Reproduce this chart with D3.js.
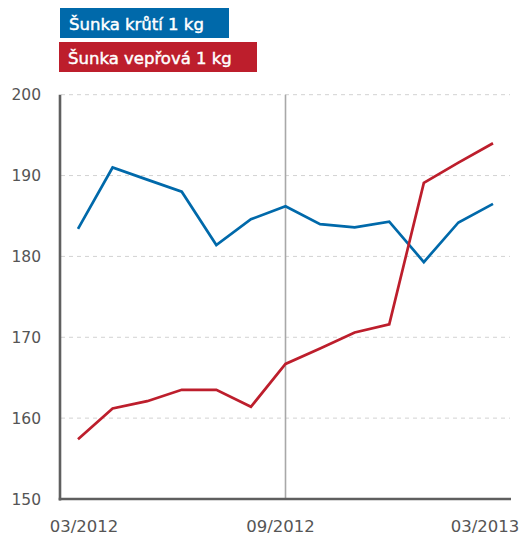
<!DOCTYPE html>
<html>
<head>
<meta charset="utf-8">
<script src="https://cdn.jsdelivr.net/npm/d3@7"></script>
<style>
html,body{margin:0;padding:0;background:#fff;}
svg{display:block;}
</style>
</head>
<body>
<svg id="chart" width="523" height="537"></svg>
<script>
const months = ["03/2012","04/2012","05/2012","06/2012","07/2012","08/2012","09/2012","10/2012","11/2012","12/2012","01/2013","02/2013","03/2013"];
const seriesNames = ["Šunka krůtí 1 kg","Šunka vepřová 1 kg"];
const turkeyHam = [183.4,191.0,189.5,188.0,181.4,184.6,186.2,184.0,183.6,184.3,179.3,184.2,186.5];
const porkHam = [157.4,161.2,162.1,163.5,163.5,161.4,166.7,168.6,170.6,171.6,189.1,191.6,194.0];
const yTicks = [150,160,170,180,190,200];
const xTickLabels = ["03/2012","09/2012","03/2013"];
const markerMonth = "09/2012";
const colors = ["#0069aa","#bd1e2c"];

const svg = d3.select("#chart");
const font = "'DejaVu Sans', sans-serif";

const x = d3.scalePoint().domain(months).range([78, 493]);
const y = d3.scaleLinear().domain([150, 200]).range([499, 94.7]);

// gridlines
svg.append("g").selectAll("line").data(yTicks.filter(d => d > 150)).join("line")
  .attr("x1", 61).attr("x2", 510)
  .attr("y1", d => y(d)).attr("y2", d => y(d))
  .attr("stroke", "#d2d2d2").attr("stroke-width", 1).attr("stroke-dasharray", "4,4");

// vertical marker
svg.append("line")
  .attr("x1", x(markerMonth)).attr("x2", x(markerMonth))
  .attr("y1", y(200)).attr("y2", y(150))
  .attr("stroke", "#a8a8a8").attr("stroke-width", 1.6);

// y labels
svg.append("g").selectAll("text").data(yTicks).join("text")
  .attr("x", 41).attr("y", d => y(d))
  .attr("dy", "0.36em")
  .attr("text-anchor", "end")
  .attr("font-family", font).attr("font-size", 15.5)
  .attr("fill", "#555").text(d => d);

// x labels
const xNudge = {"03/2012": 6, "09/2012": -5, "03/2013": -8};
svg.append("g").selectAll("text").data(xTickLabels).join("text")
  .attr("x", d => x(d) + xNudge[d]).attr("y", 532)
  .attr("text-anchor", "middle")
  .attr("font-family", font).attr("font-size", 16.5)
  .attr("fill", "#555").text(d => d);

// lines
const line = d3.line().x((d, i) => x(months[i])).y(d => y(d));
[turkeyHam, porkHam].forEach((vals, k) => {
  svg.append("path").datum(vals)
    .attr("d", line)
    .attr("fill", "none")
    .attr("stroke", colors[k])
    .attr("stroke-width", 2.7)
    .attr("stroke-linejoin", "miter");
});

// axes
svg.append("line").attr("x1", 60).attr("x2", 60).attr("y1", y(200)).attr("y2", y(150) + 1.5)
  .attr("stroke", "#5f5f5f").attr("stroke-width", 2.6);
svg.append("line").attr("x1", 58.7).attr("x2", 511).attr("y1", y(150)).attr("y2", y(150))
  .attr("stroke", "#5f5f5f").attr("stroke-width", 2.6);

// legend
const legendBoxes = [{x:60, y:8, w:169, h:30}, {x:59, y:42, w:198, h:30}];
seriesNames.forEach((name, k) => {
  const b = legendBoxes[k];
  svg.append("rect").attr("x", b.x).attr("y", b.y).attr("width", b.w).attr("height", b.h)
    .attr("fill", colors[k]);
  svg.append("text").attr("x", b.x + 9).attr("y", b.y + 21.5)
    .attr("font-family", font).attr("font-size", 16.5)
    .attr("fill", "#fff").attr("stroke", "#fff").attr("stroke-width", 0.45)
    .text(name);
});
</script>
</body>
</html>
